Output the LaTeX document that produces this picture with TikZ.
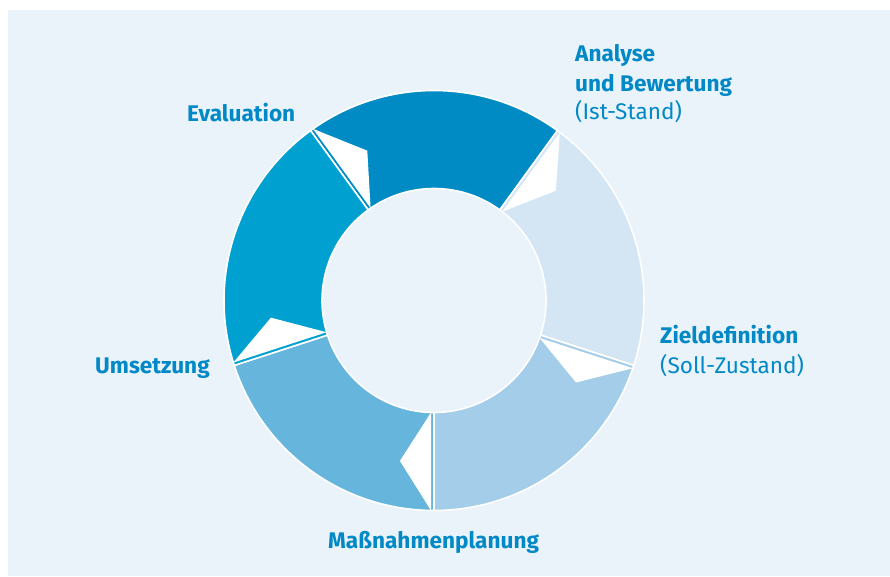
\documentclass[tikz,border=0pt]{standalone}
\usepackage{fontspec}
\setmainfont{Fira Sans}
\usetikzlibrary{calc}
\definecolor{bgblue}{RGB}{234,242,250}
\definecolor{txtblue}{RGB}{0,137,198}
\definecolor{segA}{RGB}{212,229,244}
\definecolor{segB}{RGB}{163,205,232}
\definecolor{segC}{RGB}{102,181,220}
\definecolor{segD}{RGB}{0,160,209}
\definecolor{segE}{RGB}{0,139,196}
\tikzset{
  lbl/.style={text=txtblue, font=\fontsize{22.6}{29}\selectfont, inner sep=0pt, anchor=base west},
  blbl/.style={lbl, font=\fontsize{22.6}{29}\selectfont\bfseries},
  seg/.style={draw=white, line width=1.6pt},
  notch/.style={fill=white}
}
\newcommand{\ringseg}[3]{%
  \fill[seg, fill=#3] (#1:210pt) arc[start angle=#1, end angle=#2, radius=210pt]
    -- (#2:112pt) arc[start angle=#2, end angle=#1, radius=112pt] -- cycle;}
\newcommand{\ringnotch}[1]{%
  \fill[notch] ($(#1:210pt)+(#1-90:3pt)$) -- ($(#1-12:164pt)$) -- ($(#1:112pt)+(#1-90:3pt)$) -- cycle;}
\begin{document}
\begin{tikzpicture}[x=1pt,y=1pt]
\useasboundingbox (0,0) rectangle (890,576);
\fill[bgblue] (8,0) rectangle (890,566);
\begin{scope}[shift={(434,275.5)}]
  \ringseg{54}{126}{segE}
  \ringseg{-18}{54}{segA}
  \ringseg{-90}{-18}{segB}
  \ringseg{-162}{-90}{segC}
  \ringseg{126}{198}{segD}
  \ringnotch{54}
  \ringnotch{-18}
  \ringnotch{-90}
  \ringnotch{198}
  \ringnotch{126}
\end{scope}
\node[blbl] (ana1) at (575,514) {Analyse};
\node[blbl] (ana2) at (575,484) {und Bewertung};
\node[lbl] (ana3) at (575,456) {(Ist-Stand)};
\node[blbl] (ziel1) at (660,233) {Zieldefinition};
\node[lbl] (ziel2) at (660,203) {(Soll-Zustand)};
\node[blbl] (mass) at (328,28) {Maßnahmenplanung};
\node[blbl] (ums) at (95,203) {Umsetzung};
\node[blbl] (eval) at (187,454) {Evaluation};
\end{tikzpicture}
\end{document}
